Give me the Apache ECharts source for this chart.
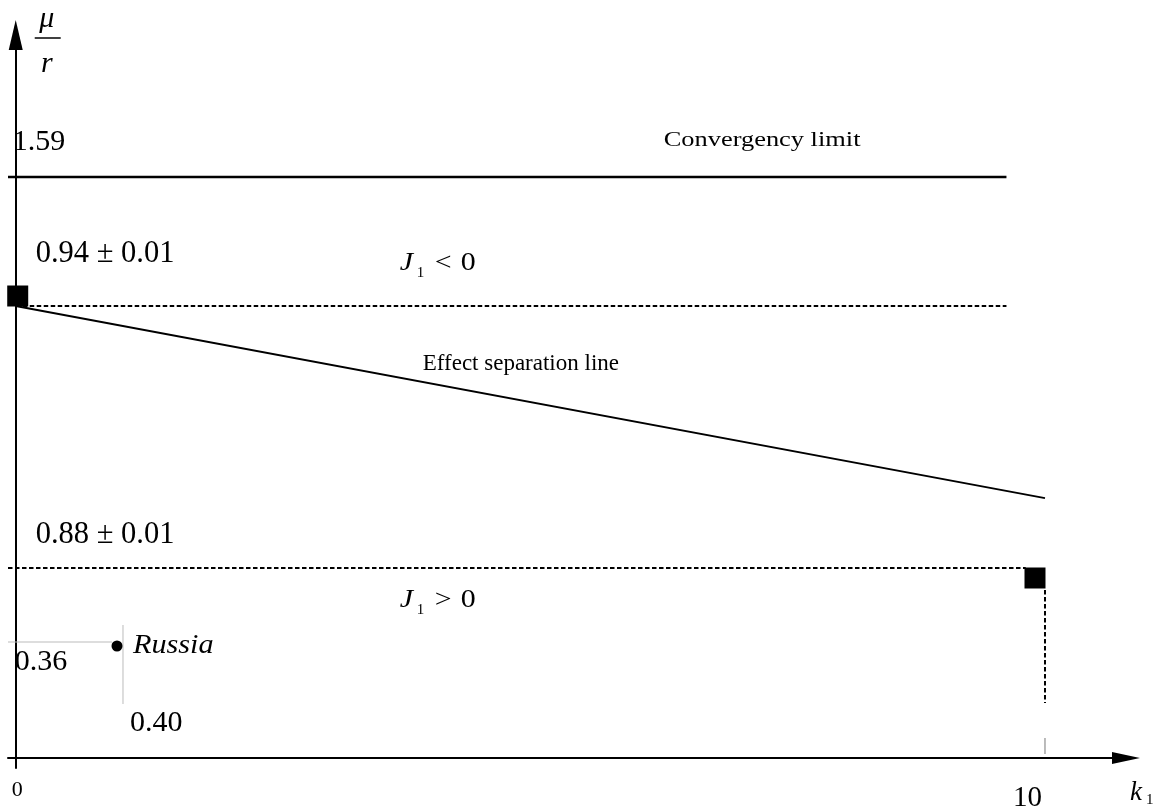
<!DOCTYPE html>
<html>
<head>
<meta charset="utf-8">
<script src="https://cdn.jsdelivr.net/npm/echarts@6/dist/echarts.min.js"></script>
<style>
  html, body { margin: 0; padding: 0; background: #fff; }
  #chart { width: 1155px; height: 811px; }
</style>
</head>
<body>
<div id="chart"></div>
<script>
// ---- values ----
const kTicks = [0, 10];
const kTickLabels = ['0', '10'];
const convergencyLimit = 1.59;          // mu/r
const upperThreshold = [0.94, 0.01];    // value, uncertainty
const lowerThreshold = [0.88, 0.01];
const separationK = [0, 10];            // effect separation line, k1
const separationMu = [0.94, 0.896];     // effect separation line, mu/r
const convergencyEnd = 9.6;             // k1 where the horizontal lines stop
const upperEnd = 9.6;
const lowerEnd = 9.8;
const russia = [0.40, 0.36];            // [k1, mu/r]

// ---- schematic scale ----
// The diagram is not to scale: every labelled value is pinned to an axis
// position and anything in between is interpolated linearly.
const yScaleValues = [0, russia[1], lowerThreshold[0], upperThreshold[0], convergencyLimit];
const yScalePos = [0, 1.14, 1.90, 4.52, 5.81];
const xScaleValues = [0, russia[0], kTicks[1]];
const xScalePos = [0, 1.013, 10];

function warp(v, vals, pos) {
  let i = 0;
  while (i < vals.length - 2 && v > vals[i + 1]) i++;
  const t = (v - vals[i]) / (vals[i + 1] - vals[i]);
  return pos[i] + t * (pos[i + 1] - pos[i]);
}
const wx = k => warp(k, xScaleValues, xScalePos);
const wy = m => warp(m, yScaleValues, yScalePos);

const X_MIN = -0.075, X_MAX = 10.787;
const Y_MIN = -0.10, Y_MAX = 7.23;
const FONT = '"Liberation Serif", "Times New Roman", serif';

const chart = echarts.init(document.getElementById('chart'), null, { renderer: 'canvas' });

const solid = w => ({ color: '#000', width: w, type: 'solid' });
const dashed = w => ({ color: '#000', width: w, type: [4.5, 2.5] });

chart.setOption({
  animation: false,
  backgroundColor: '#fff',
  grid: { left: 8, right: 29, top: 35, bottom: 43 },
  xAxis: {
    type: 'value', min: X_MIN, max: X_MAX,
    axisLine: { onZero: true, symbol: ['none', 'triangle'], symbolSize: [12, 28],
                lineStyle: { color: '#000', width: 2 } },
    axisTick: { show: false }, axisLabel: { show: false }, splitLine: { show: false }
  },
  yAxis: {
    type: 'value', min: Y_MIN, max: Y_MAX,
    axisLine: { onZero: true, symbol: ['none', 'triangle'], symbolSize: [14, 30],
                lineStyle: { color: '#000', width: 2 } },
    axisTick: { show: false }, axisLabel: { show: false }, splitLine: { show: false }
  },
  series: [
    { name: 'Convergency limit', type: 'line', symbol: 'none', lineStyle: solid(2.5),
      data: [[X_MIN, wy(convergencyLimit)], [wx(convergencyEnd), wy(convergencyLimit)]] },
    { name: 'upper', type: 'line', symbol: 'none', lineStyle: dashed(2),
      data: [[wx(0), wy(upperThreshold[0])], [wx(upperEnd), wy(upperThreshold[0])]] },
    { name: 'lower', type: 'line', symbol: 'none', lineStyle: dashed(2),
      data: [[X_MIN, wy(lowerThreshold[0])], [wx(lowerEnd), wy(lowerThreshold[0])]] },
    { name: 'Effect separation line', type: 'line', symbol: 'none', lineStyle: solid(2),
      data: separationK.map((k, i) => [wx(k), wy(separationMu[i])]) },
    { name: 'drop', type: 'custom', silent: true,
      data: [[wx(kTicks[1]), wy(lowerThreshold[0])]],
      renderItem: (params, api) => {
        const p = api.coord([api.value(0), api.value(1)]);
        const base = api.coord([api.value(0), 0]);
        return { type: 'group', children: [
          { type: 'line', shape: { x1: p[0], y1: p[1] + 22, x2: p[0], y2: p[1] + 135 },
            style: { stroke: '#000', lineWidth: 2, lineDash: [4.5, 2.5] } },
          { type: 'line', shape: { x1: base[0], y1: base[1] - 20, x2: base[0], y2: base[1] - 4 },
            style: { stroke: '#777', lineWidth: 1 } }
        ]};
      } },
    { name: 'Russia guides', type: 'custom', silent: true,
      data: [[wx(russia[0]), wy(russia[1])]],
      renderItem: (params, api) => {
        const p = api.coord([api.value(0), api.value(1)]);
        const left = params.coordSys.x;
        return { type: 'group', children: [
          { type: 'line', shape: { x1: left, y1: p[1] - 2, x2: p[0] - 8, y2: p[1] - 2 },
            style: { stroke: '#bbb', lineWidth: 1 } },
          { type: 'line', shape: { x1: p[0] + 3, y1: p[1] - 19, x2: p[0] + 3, y2: p[1] + 60 },
            style: { stroke: '#bbb', lineWidth: 1 } }
        ]};
      } },
    { name: 'thresholds', type: 'scatter', symbol: 'rect', symbolSize: 21, z: 5,
      itemStyle: { color: '#000', opacity: 1 },
      data: [
        { value: [wx(0), wy(upperThreshold[0])], symbolOffset: [2, -10] },
        { value: [wx(kTicks[1]), wy(lowerThreshold[0])], symbolOffset: [-10, 10] }
      ] },
    { name: 'Russia', type: 'scatter', symbol: 'circle', symbolSize: 11, z: 5,
      itemStyle: { color: '#000', opacity: 1 },
      data: [{ value: [wx(russia[0]), wy(russia[1])], symbolOffset: [-3, 2] }] }
  ]
});

// ---- text annotations, anchored to data positions ----
const px = (k, m) => chart.convertToPixel({ gridIndex: 0 }, [wx(k), wy(m)]);
const texts = [];
function txt(str, anchor, dx, dy, size, opts) {
  opts = opts || {};
  texts.push({
    type: 'text', x: anchor[0] + dx, y: anchor[1] + dy, z: 100,
    scaleX: opts.sx || 1,
    style: { text: str, fill: '#000', fontFamily: FONT, fontSize: size,
             fontStyle: opts.italic ? 'italic' : 'normal',
             align: opts.align || 'left', verticalAlign: 'middle' }
  });
}
const pm = a => a[0].toFixed(2) + ' \u00b1 ' + a[1].toFixed(2);

const origin = px(0, 0);
const pConv = px(0, convergencyLimit);
const pUp = px(0, upperThreshold[0]);
const pLow = px(0, lowerThreshold[0]);

txt(convergencyLimit.toFixed(2), pConv, -3, -34.5, 30);
txt('Convergency limit', pConv, 648, -37, 22, { sx: 1.2 });
txt(pm(upperThreshold), pUp, 20, -52.5, 30.5);
txt(pm(lowerThreshold), pLow, 20, -33.5, 30.5);
txt('Effect separation line', pUp, 407, 57.5, 23);

// J1 < 0 above the upper threshold, J1 > 0 below the lower one
[[pUp, -42.5, '<'], [pLow, 32.5, '>']].forEach(([a, dy, rel]) => {
  txt('J', a, 384, dy, 26, { italic: true, sx: 1.15 });
  txt('1', a, 401, dy + 9.5, 15);
  txt(rel, a, 419, dy, 26, { sx: 1.15 });
  txt('0', a, 445, dy, 26, { sx: 1.15 });
});

txt(russia[1].toFixed(2), px(0, russia[1]), -1, 18.5, 30);
txt(russia[0].toFixed(2), px(russia[0], 0), 10, -35, 30);
txt('Russia', px(russia[0], russia[1]), 13, 1.5, 27, { italic: true, sx: 1.12 });

txt(kTickLabels[0], px(kTicks[0], 0), 1.5, 32.5, 22, { align: 'center' });
txt(kTickLabels[1], px(kTicks[1], 0), -17.5, 40, 29, { align: 'center' });

// axis names: mu/r at the top of the vertical axis, k1 at the end of the horizontal one
const yAxisEnd = chart.convertToPixel({ gridIndex: 0 }, [0, Y_MAX]);
const xAxisEnd = chart.convertToPixel({ gridIndex: 0 }, [X_MAX, 0]);
txt('\u03bc', [origin[0], yAxisEnd[1]], 31, -16, 30, { italic: true, align: 'center' });
txt('r', [origin[0], yAxisEnd[1]], 31, 29, 30, { italic: true, align: 'center' });
texts.push({ type: 'line', z: 100,
  shape: { x1: origin[0] + 19, y1: yAxisEnd[1] + 3, x2: origin[0] + 45, y2: yAxisEnd[1] + 3 },
  style: { stroke: '#000', lineWidth: 1.5 } });
txt('k', xAxisEnd, 4, 35, 27, { italic: true });
txt('1', xAxisEnd, 20, 42, 15);

chart.setOption({ graphic: texts });
</script>
</body>
</html>
